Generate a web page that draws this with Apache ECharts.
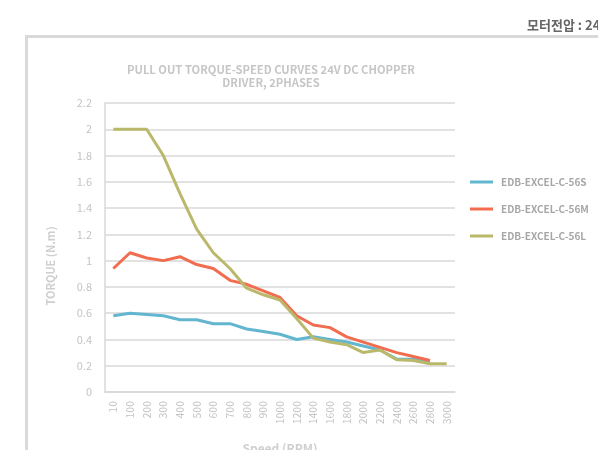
<!DOCTYPE html>
<html><head><meta charset="utf-8">
<script src="https://cdn.jsdelivr.net/npm/echarts@6/dist/echarts.min.js"></script>
<style>html,body{margin:0;padding:0;background:#fff;overflow:hidden}#c{width:598px;height:450px}</style>
</head><body><div id="c"></div>
<script>
var categories = ['10','100','200','300','400','500','600','700','800','900','1000','1200','1400','1600','1800','2000','2200','2400','2600','2800','3000'];
var seriesNames = ['EDB-EXCEL-C-56S','EDB-EXCEL-C-56M','EDB-EXCEL-C-56L'];
var torque56S = [0.58,0.60,0.59,0.58,0.55,0.55,0.52,0.52,0.48,0.46,0.44,0.40,0.42,0.40,0.38,0.35,0.32,0.25,0.25,0.22];
var torque56M = [0.94,1.06,1.02,1.00,1.03,0.97,0.94,0.85,0.82,0.77,0.72,0.58,0.51,0.49,0.42,0.38,0.34,0.30,0.27,0.24];
var torque56L = [2.0,2.0,2.0,1.80,1.51,1.24,1.06,0.94,0.79,0.74,0.70,0.56,0.41,0.38,0.36,0.30,0.32,0.245,0.24,0.215,0.215];
var colors = ['#62b6cf','#f26c4f','#bab96b'];

var chart = echarts.init(document.getElementById('c'));
var FONT = '"Noto Sans CJK KR","Noto Sans",sans-serif';
function mk(name, data, color){
  return {name:name, type:'line', data:data, symbol:'none', smooth:false,
    lineStyle:{color:color, width:3}, itemStyle:{color:color}};
}
chart.setOption({
  animation:false,
  textStyle:{fontFamily:FONT},
  title:[{
    text:'PULL OUT TORQUE-SPEED CURVES 24V DC CHOPPER\nDRIVER, 2PHASES',
    left:271, top:63, textAlign:'center', padding:0,
    textStyle:{fontFamily:FONT, fontSize:11.2, fontWeight:'bold', color:'#c6c6c6', lineHeight:13}
  },{
    text:'모터전압 : 24V', left:527, top:19, padding:0,
    textStyle:{fontFamily:FONT, fontSize:13, fontWeight:'bold', color:'#666666'}
  }],
  graphic:[{
    type:'rect', shape:{x:26.5, y:36.5, width:700, height:500},
    style:{fill:null, stroke:'#d9d9d9', lineWidth:3}, silent:true
  },{
    type:'text', x:51, y:266, rotation:Math.PI/2,
    style:{text:'TORQUE (N.m)', fill:'#cfcfcf', font:'bold 11px '+FONT, textAlign:'center', textVerticalAlign:'middle'}
  }],
  legend:{
    orient:'vertical', left:470, top:177, padding:0, icon:'rect', itemWidth:23, itemHeight:3,
    itemGap:17, data:seriesNames,
    textStyle:{fontFamily:FONT, fontSize:10, fontWeight:'bold', color:'#a6a6a6', padding:[0,0,0,3]}
  },
  grid:{left:105, right:143, top:103, bottom:58, containLabel:false, outerBoundsMode:'none'},
  xAxis:{
    type:'category', data:categories, boundaryGap:true,
    name:'Speed (RPM)', nameLocation:'middle', nameGap:50,
    nameTextStyle:{fontFamily:FONT, fontSize:12, fontWeight:'bold', color:'#cfcfcf'},
    axisLine:{lineStyle:{color:'#d9d9d9', width:1.5}},
    axisTick:{show:false},
    axisLabel:{rotate:90, interval:0, margin:9, fontSize:10.5, color:'#c4c4c4', fontFamily:FONT}
  },
  yAxis:{
    type:'value', min:0, max:2.2, interval:0.2,
    axisLine:{show:true, lineStyle:{color:'#d9d9d9', width:1.5}},
    axisTick:{show:false},
    axisLabel:{margin:13, fontSize:11, color:'#c4c4c4', fontFamily:FONT,
      formatter:function(v){return String(Math.round(v*10)/10);}},
    splitLine:{lineStyle:{color:'#d9d9d9', width:1.5}}
  },
  series:[mk(seriesNames[0],torque56S,colors[0]), mk(seriesNames[1],torque56M,colors[1]), mk(seriesNames[2],torque56L,colors[2])]
});
</script></body></html>
